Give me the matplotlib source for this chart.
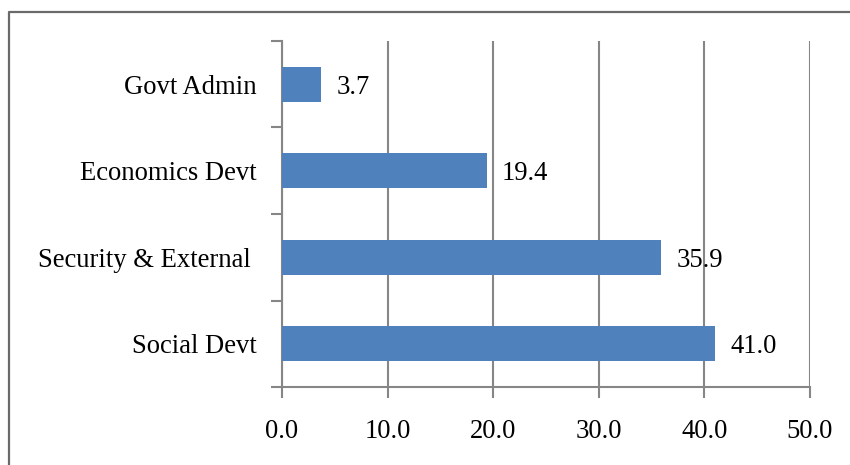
import matplotlib
matplotlib.use("Agg")
import matplotlib.pyplot as plt
from matplotlib.lines import Line2D

categories = ["Social Devt", "Security & External ", "Economics Devt", "Govt Admin"]
values = [41.0, 35.9, 19.4, 3.7]
x_ticks = [0, 10, 20, 30, 40, 50]
x_tick_labels = ["0.0", "10.0", "20.0", "30.0", "40.0", "50.0"]

plt.rcParams['font.family'] = ['Liberation Serif', 'DejaVu Serif']
FS = 19.2
GRAY = "#868686"

fig = plt.figure(figsize=(8.5, 4.65), dpi=100)
ax = fig.add_axes([282/850, 1 - 387/465, (810 - 282)/850, (387 - 41)/465])

ypos = list(range(len(categories)))
ax.barh(ypos, values, height=0.4, color="#4F81BD", zorder=3)

ax.set_xlim(0, 50)
ax.set_ylim(-0.5, len(categories) - 0.5)
ax.set_xticks(x_ticks)
ax.set_xticklabels(x_tick_labels, fontsize=FS)

# category boundaries as tick marks, labels at centers
ax.set_yticks([i - 0.5 for i in range(len(categories) + 1)])
ax.set_yticklabels([])
ax.set_yticks(ypos, minor=True)
ax.set_yticklabels(categories, minor=True, fontsize=FS)
ax.tick_params(axis='y', which='minor', length=0, pad=18)
ax.tick_params(axis='y', which='major', length=8, width=1.5, color=GRAY, direction='out')
ax.tick_params(axis='x', length=8, width=1.5, color=GRAY, direction='out', pad=15)

ax.grid(axis='x', color=GRAY, linewidth=1.5, zorder=0)
ax.set_axisbelow(True)
for s in ['top', 'right']:
    ax.spines[s].set_visible(False)
for s in ['left', 'bottom']:
    ax.spines[s].set_color(GRAY)
    ax.spines[s].set_linewidth(1.5)

for y, v in zip(ypos, values):
    ax.annotate(f"{v:.1f}", xy=(v, y), xytext=(11, -2), textcoords='offset points',
                va='center', ha='left', fontsize=FS, zorder=4)

# figure border: only left and top edges fall inside the picture
bx, by = 9/850, 1 - 12.5/465
fig.add_artist(Line2D([bx, bx, 1.05], [-0.05, by, by], transform=fig.transFigure,
                      color="#6a6a6a", linewidth=1.6, solid_capstyle='butt'))

fig.savefig("out.png", dpi=100)
